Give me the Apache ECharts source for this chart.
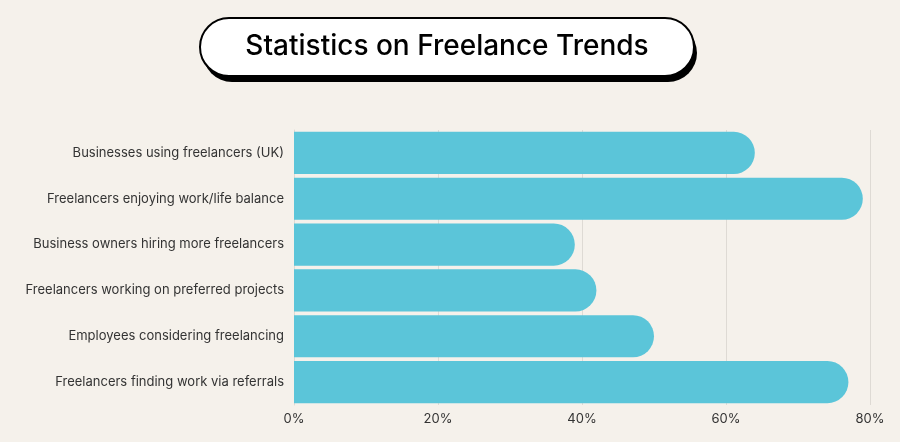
<!DOCTYPE html>
<html><head><meta charset="utf-8">
<script src="https://cdn.jsdelivr.net/npm/echarts@6/dist/echarts.min.js"></script>
<style>html,body{margin:0;padding:0;background:#f5f1eb}#c{width:900px;height:442px}</style>
</head><body><div id="c"></div>
<script>
const categories = ["Businesses using freelancers (UK)","Freelancers enjoying work/life balance","Business owners hiring more freelancers","Freelancers working on preferred projects","Employees considering freelancing","Freelancers finding work via referrals"];
const values = [64, 79, 39, 42, 50, 77];
const tickLabels = ["0%","20%","40%","60%","80%"];
const chart = echarts.init(document.getElementById('c'));
chart.setOption({
  backgroundColor:'#f5f1eb',
  graphic:[
    {type:'rect',shape:{x:203,y:24,width:494,height:58,r:29},style:{fill:'#000'}},
    {type:'rect',shape:{x:200,y:18,width:494,height:58,r:29},style:{fill:'#fff',stroke:'#000',lineWidth:2}},
    {type:'text',x:447,y:47,style:{text:'Statistics on Freelance Trends',fontFamily:'Inter',fontSize:28,fontWeight:500,fill:'#000',align:'center',verticalAlign:'middle'}}
  ],
  grid:{left:294,right:30,top:130,bottom:37},
  xAxis:{type:'value',min:0,max:80,interval:20,
    axisLabel:{formatter:(v)=>tickLabels[v/20],color:'#333',fontSize:13,fontFamily:'Inter'},
    splitLine:{lineStyle:{color:'#dedad4'}},axisLine:{show:false},axisTick:{show:false}},
  yAxis:{type:'category',inverse:true,data:categories,
    axisLabel:{color:'#333',fontSize:13,fontFamily:'Inter',margin:10},
    axisLine:{lineStyle:{color:'#dedad4'}},axisTick:{show:false}},
  series:[{type:'bar',data:values,barCategoryGap:'8%',
    itemStyle:{color:'#5bc5d9',borderRadius:[0,21,21,0]}}]
});
</script></body></html>
